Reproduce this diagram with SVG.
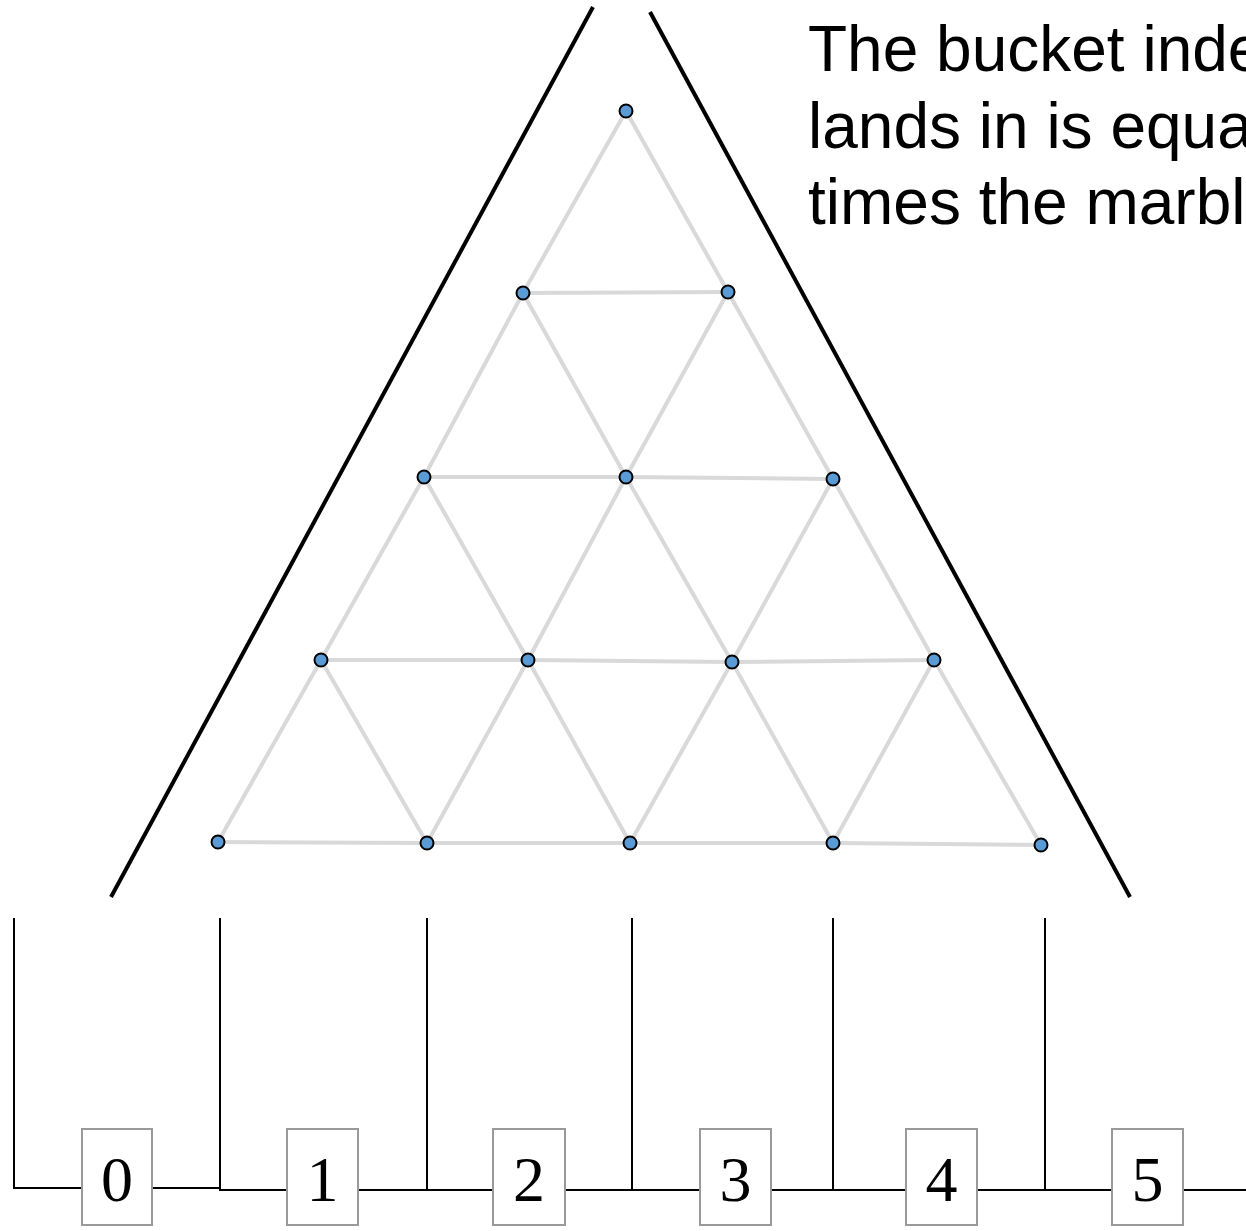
<svg xmlns="http://www.w3.org/2000/svg" width="1246" height="1231" viewBox="0 0 1246 1231">
<style>
.edge{stroke:#d9d9d9;stroke-width:4;fill:none;stroke-linecap:round}
.dot{fill:#5b9bd5;stroke:#000;stroke-width:2}
.wall{stroke:#000;stroke-width:4;fill:none}
.bin{stroke:#000;stroke-width:2;fill:none}
.box{fill:#fff;stroke:#999;stroke-width:2}
.num{font-family:"Liberation Serif","Times New Roman",serif;font-size:64px;fill:#000;text-anchor:middle}
.note{font-family:"Liberation Sans",Arial,sans-serif;font-size:64px;fill:#000}
</style>
<rect width="1246" height="1231" fill="#fff"/>
<g id="walls">
<line class="wall" x1="593" y1="7" x2="111" y2="897"/>
<line class="wall" x1="650" y1="12" x2="1130" y2="897"/>
</g>
<g id="connectors">
<line class="edge" x1="626" y1="111" x2="523" y2="293"/>
<line class="edge" x1="626" y1="111" x2="728" y2="292"/>
<line class="edge" x1="523" y1="293" x2="728" y2="292"/>
<line class="edge" x1="523" y1="293" x2="424" y2="477"/>
<line class="edge" x1="523" y1="293" x2="626" y2="477"/>
<line class="edge" x1="728" y1="292" x2="626" y2="477"/>
<line class="edge" x1="728" y1="292" x2="833" y2="479"/>
<line class="edge" x1="424" y1="477" x2="626" y2="477"/>
<line class="edge" x1="626" y1="477" x2="833" y2="479"/>
<line class="edge" x1="424" y1="477" x2="321" y2="660"/>
<line class="edge" x1="424" y1="477" x2="528" y2="660"/>
<line class="edge" x1="626" y1="477" x2="528" y2="660"/>
<line class="edge" x1="626" y1="477" x2="732" y2="662"/>
<line class="edge" x1="833" y1="479" x2="732" y2="662"/>
<line class="edge" x1="833" y1="479" x2="934" y2="660"/>
<line class="edge" x1="321" y1="660" x2="528" y2="660"/>
<line class="edge" x1="528" y1="660" x2="732" y2="662"/>
<line class="edge" x1="732" y1="662" x2="934" y2="660"/>
<line class="edge" x1="321" y1="660" x2="218" y2="842"/>
<line class="edge" x1="321" y1="660" x2="427" y2="843"/>
<line class="edge" x1="528" y1="660" x2="427" y2="843"/>
<line class="edge" x1="528" y1="660" x2="630" y2="843"/>
<line class="edge" x1="732" y1="662" x2="630" y2="843"/>
<line class="edge" x1="732" y1="662" x2="833" y2="843"/>
<line class="edge" x1="934" y1="660" x2="833" y2="843"/>
<line class="edge" x1="934" y1="660" x2="1041" y2="845"/>
<line class="edge" x1="218" y1="842" x2="427" y2="843"/>
<line class="edge" x1="427" y1="843" x2="630" y2="843"/>
<line class="edge" x1="630" y1="843" x2="833" y2="843"/>
<line class="edge" x1="833" y1="843" x2="1041" y2="845"/>
</g>
<g id="pegs">
<circle id="peg-0-0" class="dot" cx="626" cy="111" r="6.5"/>
<circle id="peg-1-0" class="dot" cx="523" cy="293" r="6.5"/>
<circle id="peg-1-1" class="dot" cx="728" cy="292" r="6.5"/>
<circle id="peg-2-0" class="dot" cx="424" cy="477" r="6.5"/>
<circle id="peg-2-1" class="dot" cx="626" cy="477" r="6.5"/>
<circle id="peg-2-2" class="dot" cx="833" cy="479" r="6.5"/>
<circle id="peg-3-0" class="dot" cx="321" cy="660" r="6.5"/>
<circle id="peg-3-1" class="dot" cx="528" cy="660" r="6.5"/>
<circle id="peg-3-2" class="dot" cx="732" cy="662" r="6.5"/>
<circle id="peg-3-3" class="dot" cx="934" cy="660" r="6.5"/>
<circle id="peg-4-0" class="dot" cx="218" cy="842" r="6.5"/>
<circle id="peg-4-1" class="dot" cx="427" cy="843" r="6.5"/>
<circle id="peg-4-2" class="dot" cx="630" cy="843" r="6.5"/>
<circle id="peg-4-3" class="dot" cx="833" cy="843" r="6.5"/>
<circle id="peg-4-4" class="dot" cx="1041" cy="845" r="6.5"/>
</g>
<g id="bins">
<polyline class="bin" points="14,918 14,1188 220,1188"/>
<polyline class="bin" points="220,918 220,1190 1246,1190"/>
<line class="bin" x1="427" y1="918" x2="427" y2="1190"/>
<line class="bin" x1="632" y1="918" x2="632" y2="1190"/>
<line class="bin" x1="833" y1="918" x2="833" y2="1190"/>
<line class="bin" x1="1045" y1="918" x2="1045" y2="1190"/>
</g>
<g id="bucket-0"><rect class="box" x="82" y="1129" width="70" height="96"/><text class="num" x="117" y="1201">0</text></g>
<g id="bucket-1"><rect class="box" x="287" y="1129" width="71" height="96"/><text class="num" x="322.5" y="1201">1</text></g>
<g id="bucket-2"><rect class="box" x="493" y="1129" width="72" height="96"/><text class="num" x="529" y="1201">2</text></g>
<g id="bucket-3"><rect class="box" x="700" y="1129" width="71" height="96"/><text class="num" x="735.5" y="1201">3</text></g>
<g id="bucket-4"><rect class="box" x="906" y="1129" width="71" height="96"/><text class="num" x="941.5" y="1201">4</text></g>
<g id="bucket-5"><rect class="box" x="1112" y="1129" width="71" height="96"/><text class="num" x="1147.5" y="1201">5</text></g>
<g id="note">
<text class="note" x="808" y="71">The bucket inde</text>
<text class="note" x="808" y="148">lands in is equa</text>
<text class="note" x="808" y="224">times the marbl</text>
</g>
</svg>
